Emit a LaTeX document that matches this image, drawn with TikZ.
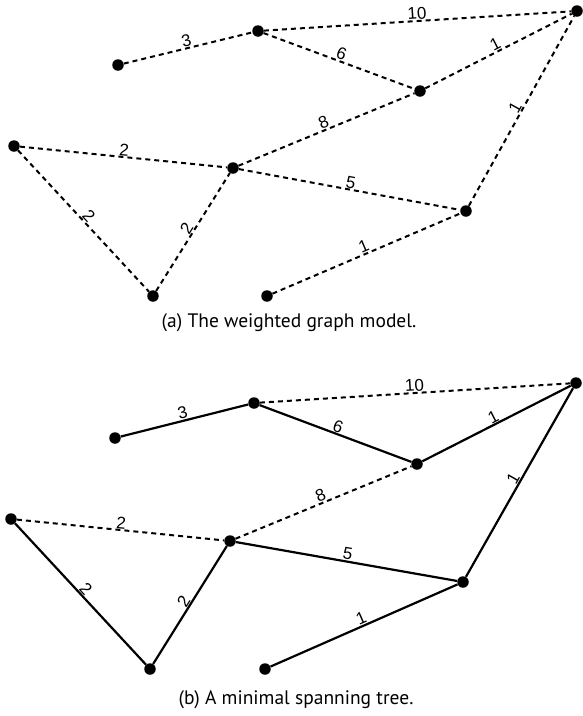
\documentclass[tikz,border=0pt]{standalone}
\usepackage{fontspec}
\newfontfamily\lblfont{Liberation Sans}
\newfontfamily\capfont{PT Sans}
\begin{document}
\begin{tikzpicture}[x=1pt,y=-1pt,
  vert/.style={circle,fill=black,inner sep=0pt,minimum size=11.5pt},
  tree/.style={line width=2.2pt},
  nontree/.style={line width=2pt,dash pattern=on 5pt off 4pt},
  wt/.style={font=\lblfont\fontsize{17}{17}\selectfont,sloped,above,inner sep=0.5pt},
  captext/.style={font=\capfont\fontsize{19.5}{24}\selectfont,inner sep=0pt}]
\useasboundingbox (0,0) rectangle (582,716);
% ---------- (a) ----------
\node[vert] (a1) at (118,65) {};
\node[vert] (b1) at (258,31) {};
\node[vert] (c1) at (577,11) {};
\node[vert] (d1) at (420,91) {};
\node[vert] (e1) at (14,146) {};
\node[vert] (f1) at (233,168) {};
\node[vert] (g1) at (466,211) {};
\node[vert] (h1) at (153,296) {};
\node[vert] (i1) at (267,296) {};
\draw[nontree] (a1) -- node[wt]{3} (b1);
\draw[nontree] (b1) -- node[wt]{10} (c1);
\draw[nontree] (b1) -- node[wt]{6} (d1);
\draw[nontree] (d1) -- node[wt]{1} (c1);
\draw[nontree] (f1) -- node[wt]{8} (d1);
\draw[nontree] (g1) -- node[wt]{1} (c1);
\draw[nontree] (e1) -- node[wt]{2} (f1);
\draw[nontree] (f1) -- node[wt]{5} (g1);
\draw[nontree] (e1) -- node[wt]{2} (h1);
\draw[nontree] (h1) -- node[wt]{2} (f1);
\draw[nontree] (i1) -- node[wt]{1} (g1);
\node[captext] (capa) at (289,323) {(a) The weighted graph model.};
% ---------- (b) ----------
\node[vert] (a2) at (115,438) {};
\node[vert] (b2) at (254,403) {};
\node[vert] (c2) at (576,383) {};
\node[vert] (d2) at (417,464) {};
\node[vert] (e2) at (11,519) {};
\node[vert] (f2) at (230,541) {};
\node[vert] (g2) at (463,582) {};
\node[vert] (h2) at (150,669) {};
\node[vert] (i2) at (265,669) {};
\draw[tree] (a2) -- node[wt]{3} (b2);
\draw[nontree] (b2) -- node[wt]{10} (c2);
\draw[tree] (b2) -- node[wt]{6} (d2);
\draw[tree] (d2) -- node[wt]{1} (c2);
\draw[nontree] (f2) -- node[wt]{8} (d2);
\draw[tree] (g2) -- node[wt]{1} (c2);
\draw[nontree] (e2) -- node[wt]{2} (f2);
\draw[tree] (f2) -- node[wt]{5} (g2);
\draw[tree] (e2) -- node[wt]{2} (h2);
\draw[tree] (h2) -- node[wt]{2} (f2);
\draw[tree] (i2) -- node[wt]{1} (g2);
\node[captext] (capb) at (296,700) {(b) A minimal spanning tree.};
\end{tikzpicture}
\end{document}
